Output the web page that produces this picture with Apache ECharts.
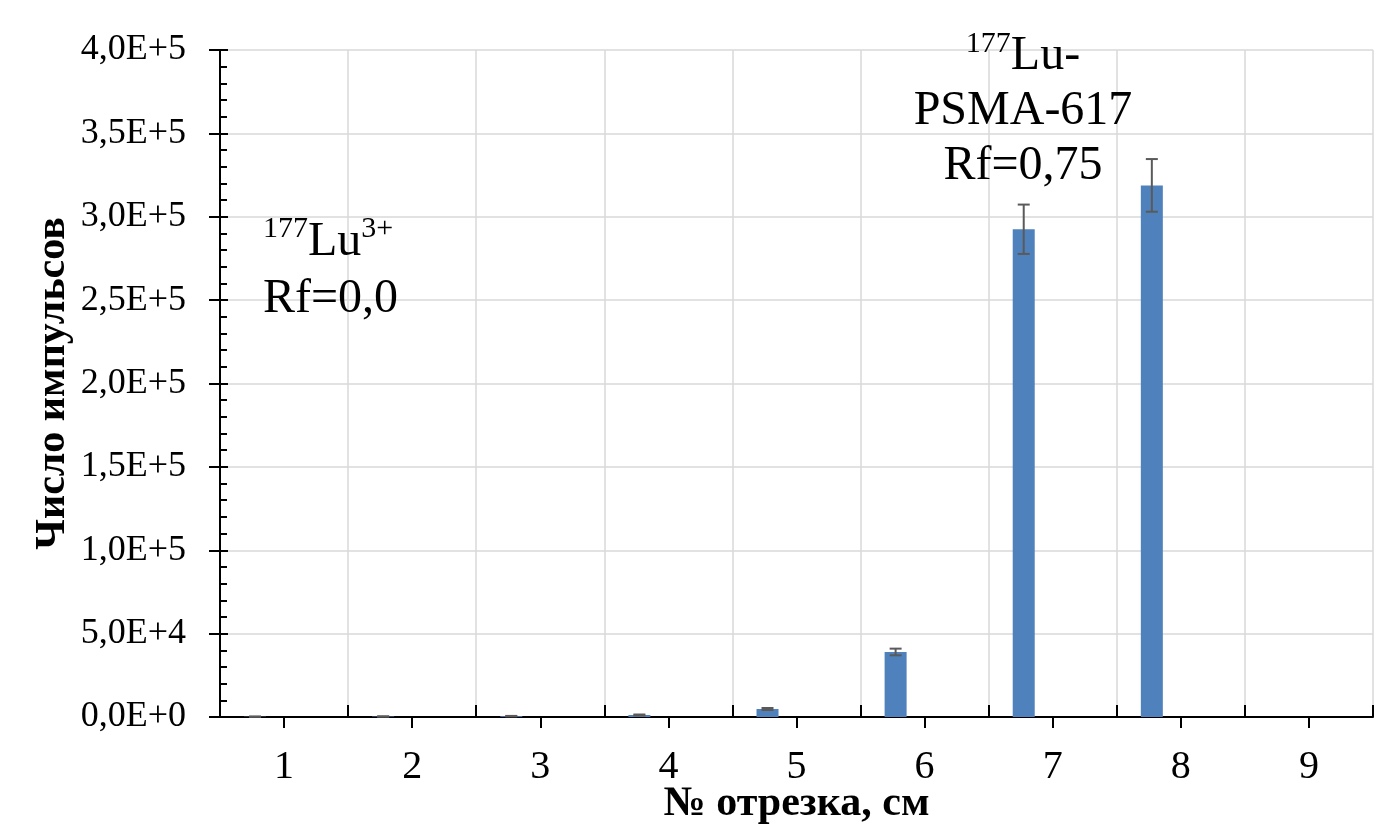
<!DOCTYPE html>
<html>
<head>
<meta charset="utf-8">
<title>Число импульсов по отрезкам</title>
<script src="https://cdn.jsdelivr.net/npm/echarts@6/dist/echarts.min.js"></script>
<style>
    html, body { margin: 0; padding: 0; background: #fff; }
    #main { width: 1376px; height: 825px; }
</style>
</head>
<body>
<div id="main"></div>
<script>
// данные графика
var segments = ['1', '2', '3', '4', '5', '6', '7', '8', '9'];
var counts = [200, 300, 500, 1200, 4800, 39000, 292500, 318800, 0];
var countErr = [100, 100, 150, 300, 600, 2000, 14800, 15800, 0];
var yMax = 400000;
var yStep = 50000;

var serif = 'Liberation Serif';
var barW = 22;
var barShift = -29; // бар сдвинут влево от центра категории

// 4,0E+5
function sciLabel(v) {
    if (v === 0) return '0,0E+0';
    var e = Math.floor(Math.log10(v) + 1e-9);
    var m = v / Math.pow(10, e);
    return m.toFixed(1).replace('.', ',') + 'E+' + e;
}

var errData = [];
for (var i = 0; i < segments.length; i++) {
    errData.push([i, counts[i], countErr[i]]);
}

var myChart = echarts.init(document.getElementById('main'));

var option = {
    animation: false,
    backgroundColor: '#fff',
    grid: { left: 220, right: 3, top: 50, bottom: 108, outerBoundsMode: 'none', containLabel: false },
    xAxis: [{
        type: 'category',
        data: segments,
        name: '№ отрезка, см',
        nameLocation: 'middle',
        nameGap: 66,
        nameMoveOverlap: false,
        nameTextStyle: { fontFamily: serif, fontSize: 42, fontWeight: 'bold', color: '#000' },
        axisLine: { lineStyle: { color: '#000', width: 2 } },
        axisTick: { show: true, inside: true, length: 12, lineStyle: { color: '#000', width: 2 } },
        axisLabel: { fontFamily: serif, fontSize: 40, color: '#000', margin: 30 },
        splitLine: { show: true, lineStyle: { color: '#d9d9d9', width: 1.5 } }
    }, {
        // тики по центрам категорий (наружу)
        type: 'category',
        data: segments,
        position: 'bottom',
        offset: 0,
        axisLine: { show: false },
        axisTick: { show: true, alignWithLabel: true, inside: false, length: 11, lineStyle: { color: '#000', width: 2 } },
        axisLabel: { show: false },
        splitLine: { show: false }
    }],
    yAxis: [{
        type: 'value',
        min: 0,
        max: yMax,
        interval: yStep,
        name: 'Число импульсов',
        nameLocation: 'middle',
        nameGap: 146,
        nameMoveOverlap: false,
        nameTextStyle: { fontFamily: serif, fontSize: 42, fontWeight: 'bold', color: '#000' },
        axisLine: { show: true, lineStyle: { color: '#000', width: 2 } },
        axisTick: { show: true, inside: false, length: 11, lineStyle: { color: '#000', width: 2 } },
        axisLabel: { fontFamily: serif, fontSize: 36, color: '#000', margin: 34, formatter: sciLabel },
        splitLine: { show: true, lineStyle: { color: '#d9d9d9', width: 1.5 } }
    }, {
        // внутренние тики и мелкие деления
        type: 'value',
        min: 0,
        max: yMax,
        interval: yStep,
        position: 'left',
        offset: 0,
        axisLine: { show: false },
        axisTick: { show: true, inside: true, length: 8, lineStyle: { color: '#000', width: 2 } },
        minorTick: { show: true, splitNumber: 5, length: 7, lineStyle: { color: '#000', width: 2 } },
        axisLabel: { show: false },
        splitLine: { show: false }
    }],
    series: [{
        name: 'counts',
        type: 'bar',
        data: counts,
        barWidth: barW,
        barGap: ((-barShift * 2 - barW) / barW * 100) + '%',
        itemStyle: { color: '#4f81bd' }
    }, {
        name: 'spacer',
        type: 'bar',
        data: segments.map(function () { return null; }),
        barWidth: barW,
        silent: true
    }, {
        name: 'err',
        type: 'custom',
        data: errData,
        z: 5,
        renderItem: function (params, api) {
            var idx = api.value(0);
            var v = api.value(1);
            var e = api.value(2);
            if (!e) return null;
            var top = api.coord([idx, v + e]);
            var bot = api.coord([idx, Math.max(v - e, 0)]);
            var cx = top[0] + barShift;
            var cap = 6;
            var st = { stroke: '#5a5a5a', lineWidth: 2 };
            return {
                type: 'group',
                children: [
                    { type: 'line', shape: { x1: cx, y1: top[1], x2: cx, y2: bot[1] }, style: st },
                    { type: 'line', shape: { x1: cx - cap, y1: top[1], x2: cx + cap, y2: top[1] }, style: st },
                    { type: 'line', shape: { x1: cx - cap, y1: bot[1], x2: cx + cap, y2: bot[1] }, style: st }
                ]
            };
        }
    }],
    graphic: [{
        type: 'text',
        x: 263,
        y: 214,
        z: 100,
        style: {
            text: '{sup|177}{n|Lu}{sup|3+}\n{n|Rf=0,0}',
            rich: {
                n: { fontFamily: serif, fontSize: 48, lineHeight: 57, color: '#000' },
                sup: { fontFamily: serif, fontSize: 30, lineHeight: 57, verticalAlign: 'top', color: '#000' }
            }
        }
    }, {
        type: 'text',
        x: 1023,
        y: 29,
        z: 100,
        style: {
            text: '{sup|177}{n|Lu-}\n{n|PSMA-617}\n{n|Rf=0,75}',
            align: 'center',
            rich: {
                n: { fontFamily: serif, fontSize: 48, lineHeight: 55, color: '#000' },
                sup: { fontFamily: serif, fontSize: 30, lineHeight: 55, verticalAlign: 'top', color: '#000' }
            }
        }
    }]
};

myChart.setOption(option);
</script>
</body>
</html>
